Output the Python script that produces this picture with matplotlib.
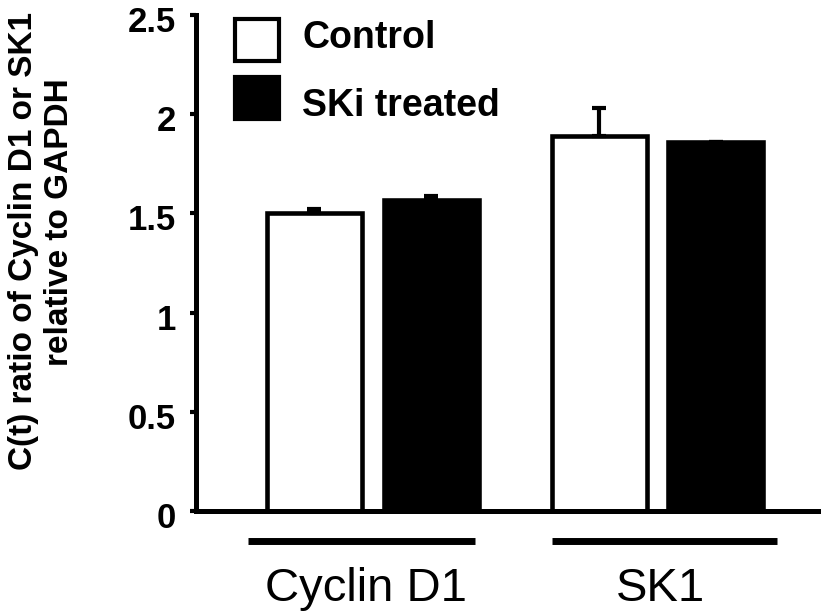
import matplotlib
matplotlib.use("Agg")
import matplotlib.pyplot as plt
import matplotlib.transforms as mtransforms
import numpy as np
from matplotlib.patches import Rectangle

plt.rcParams["font.family"] = ["Liberation Sans", "DejaVu Sans"]

# datos
genes = ["Cyclin D1", "SK1"]
grupos = ["Control", "SKi treated"]
control_vals = [1.50, 1.89]
control_err = [0.02, 0.14]
ski_vals = [1.57, 1.86]
ski_err = [0.02, 0.0]
yticks = [0, 0.5, 1, 1.5, 2, 2.5]
ytick_labels = ["0", "0.5", "1", "1.5", "2", "2.5"]

W, H = 821, 613
fig = plt.figure(figsize=(W / 100, H / 100), dpi=100)
ax = fig.add_axes([196 / W, (H - 511) / H, (W - 196) / W, (511 - 15) / H])

x = np.arange(len(genes))
offset = 0.205
width = 0.334
lw = 3.3

ax.bar(x - offset, control_vals, width, color="white", edgecolor="black", linewidth=lw, zorder=2)
ax.bar(x + offset, ski_vals, width, color="black", edgecolor="black", linewidth=lw, zorder=2)
ax.errorbar(x - offset, control_vals, yerr=[np.zeros(len(x)), control_err], fmt="none",
            ecolor="black", elinewidth=3, capsize=5, capthick=3, zorder=3)
ax.errorbar(x + offset, ski_vals, yerr=[np.zeros(len(x)), ski_err], fmt="none",
            ecolor="black", elinewidth=3, capsize=5, capthick=3, zorder=3)

ax.set_xlim(-0.621, 1.574)
ax.set_ylim(0, 2.5)
ax.set_yticks(yticks, ytick_labels)
ax.tick_params(axis="y", direction="out", length=4.5, width=3, pad=10)
# etiquetas del eje y un poco por debajo de cada marca, como en el original
bajar = mtransforms.ScaledTranslation(0, -4 / 100, fig.dpi_scale_trans)
for lab in ax.get_yticklabels():
    lab.set_fontweight("bold")
    lab.set_fontsize(25)
    lab.set_transform(lab.get_transform() + bajar)

ax.set_xticks(x, genes, fontsize=34)
ax.tick_params(axis="x", length=0, pad=40)
for lab, dx in zip(ax.get_xticklabels(), [-7, 3]):
    lab.set_transform(lab.get_transform() + mtransforms.ScaledTranslation(dx / 100, 0, fig.dpi_scale_trans))

for s in ["top", "right"]:
    ax.spines[s].set_visible(False)
for s in ["left", "bottom"]:
    ax.spines[s].set_linewidth(3.6)

# lineas bajo cada grupo
trans = mtransforms.blended_transform_factory(ax.transData, ax.transAxes)
ax.plot([-0.44, 0.36], [-0.06, -0.06], color="black", lw=5, transform=trans,
        clip_on=False, solid_capstyle="butt")
ax.plot([0.63, 1.42], [-0.06, -0.06], color="black", lw=5, transform=trans,
        clip_on=False, solid_capstyle="butt")

# leyenda dibujada a mano (cajas y textos no van alineados en el original)
cajas = [(235, 19, "white"), (235, 77, "black")]
for (px, py, col) in cajas:
    fig.add_artist(Rectangle((px / W, 1 - (py + 42) / H), 44 / W, 42 / H,
                             facecolor=col, edgecolor="black", linewidth=3,
                             transform=fig.transFigure))
for texto, base in zip(grupos, [48, 116]):
    fig.text(302 / W, 1 - base / H, texto, ha="left", va="baseline",
             fontsize=27, fontweight="bold")

# etiqueta del eje y
fig.text(24 / W, 1 - 241 / H, "C(t) ratio of Cyclin D1 or SK1", rotation=90,
         ha="center", va="center", fontsize=24, fontweight="bold")
fig.text(59 / W, 1 - 222 / H, "relative to GAPDH", rotation=90,
         ha="center", va="center", fontsize=24, fontweight="bold")

fig.savefig("out.png", dpi=100)
